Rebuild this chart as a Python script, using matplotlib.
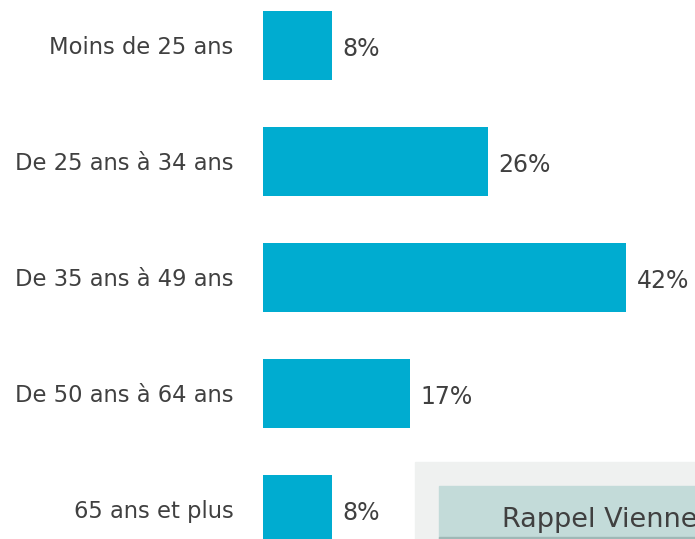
import matplotlib
matplotlib.use('Agg')
import matplotlib.pyplot as plt
from matplotlib.patches import Rectangle

categories = ['Moins de 25 ans', 'De 25 ans à 34 ans', 'De 35 ans à 49 ans',
              'De 50 ans à 64 ans', '65 ans et plus']
values = [8, 26, 42, 17, 8]
value_labels = ['8%', '26%', '42%', '17%', '8%']
box_title = 'Rappel Vienne'

W, H = 695, 539
BAR_COLOR = '#00acd0'
TEXT_COLOR = '#404040'

plt.rcParams['font.family'] = ['DejaVu Sans']

fig = plt.figure(figsize=(W / 100, H / 100), dpi=100)
ax = fig.add_axes([263 / W, 0, 1 - 263 / W, 1])

pos = list(range(len(categories)))
ax.barh(pos, values, height=0.6, color=BAR_COLOR)
ax.set_xlim(0, (W - 263) / 8.65)
ax.set_ylim((H - 45.5) / 116, -45.5 / 116)
ax.axis('off')

for p, v, lab in zip(pos, values, value_labels):
    ax.text(v + 1.2, p + 0.03, lab, va='center', ha='left',
            fontsize=17, color=TEXT_COLOR)
for p, c in zip(pos, categories):
    ax.text(-3.4, p + 0.02, c, va='center', ha='right', fontsize=16.3,
            color=TEXT_COLOR, clip_on=False)

# encadré "Rappel Vienne" coupé en bas à droite
fig.patches.append(Rectangle((415 / W, 0), 1, (H - 462) / H,
                             transform=fig.transFigure, color='#eff1f0', zorder=0))
fig.patches.append(Rectangle((439 / W, 0), 1, (H - 486) / H,
                             transform=fig.transFigure, color='#c3dbd9', zorder=1))
fig.patches.append(Rectangle((439 / W, 0), 1, 2 / H,
                             transform=fig.transFigure, color='#9fb8b6', zorder=2))
fig.text(502 / W, (H - 527) / H, box_title, fontsize=19.5, color=TEXT_COLOR,
         ha='left', va='baseline')

fig.savefig('out.png', dpi=100)
